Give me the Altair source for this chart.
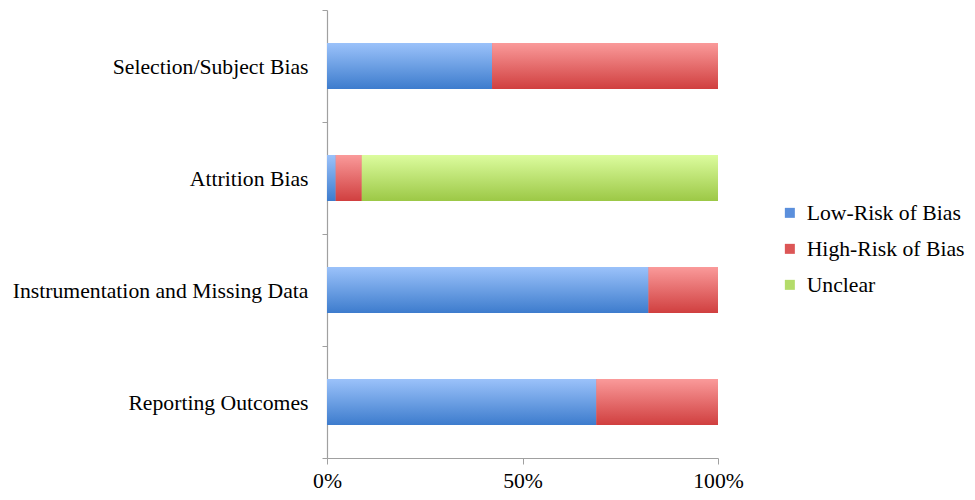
import altair as alt
import pandas as pd

categories = ["Selection/Subject Bias", "Attrition Bias",
              "Instrumentation and Missing Data", "Reporting Outcomes"]
series = ["Low-Risk of Bias", "High-Risk of Bias", "Unclear"]
low_risk = [19, 1, 37, 31]
high_risk = [26, 3, 8, 14]
unclear = [0, 41, 0, 0]

solid = ["#5b8fdc", "#dc5656", "#b4dc6a"]
grads = [("#9bc2fa", "#3d7ccd"), ("#fa9a9a", "#d03f3f"), ("#dcfc9e", "#9cc846")]

rows = []
for i, c in enumerate(categories):
    vals = [low_risk[i], high_risk[i], unclear[i]]
    tot = sum(vals)
    acc = 0
    for s, v in zip(series, vals):
        rows.append({"category": c, "series": s, "start": acc / tot, "end": (acc + v) / tot})
        acc += v
df = pd.DataFrame(rows)
df = df[df["end"] > df["start"]]

FONT = "Liberation Serif"
FS = 21.7
BAR = 46

yenc = alt.Y("category:N", sort=categories, title=None,
             scale=alt.Scale(padding=0),
             axis=alt.Axis(tickBand="extent", domainColor="#a0a0a0", tickColor="#a0a0a0",
                           tickSize=5, labelPadding=14, labelFont=FONT, labelFontSize=FS,
                           labelColor="black", labelLimit=500, grid=False, domainWidth=1.2))
xenc = alt.X("start:Q", title=None,
             scale=alt.Scale(domain=[0, 1], nice=False),
             axis=alt.Axis(values=[0, 0.5, 1], format="%", domainColor="#a0a0a0",
                           tickColor="#a0a0a0", tickSize=6, labelPadding=6,
                           labelFlush=False,
                           labelFont=FONT, labelFontSize=FS, labelColor="black",
                           grid=False, domainWidth=1.2))

base = alt.Chart(df).mark_bar(size=BAR).encode(
    y=yenc, x=xenc, x2="end:Q",
    color=alt.Color("series:N", sort=series, title=None,
                    scale=alt.Scale(domain=series, range=solid),
                    legend=alt.Legend(orient="none", legendX=452, legendY=192,
                                      symbolType="square", symbolSize=100,
                                      symbolStrokeWidth=0,
                                      labelFont=FONT, labelFontSize=FS, labelColor="black",
                                      rowPadding=13, labelOffset=6, labelLimit=300)),
)

layers = [base]
for s, (top, bot) in zip(series, grads):
    g = alt.Gradient(gradient="linear", x1=0, x2=0, y1=0, y2=1,
                     stops=[alt.GradientStop(color=top, offset=0),
                            alt.GradientStop(color=bot, offset=1)])
    layers.append(
        alt.Chart(df[df["series"] == s]).mark_bar(fill=g, size=BAR).encode(
            y=alt.Y("category:N", sort=categories), x="start:Q", x2="end:Q")
    )

chart = alt.layer(*layers).properties(
    width=391, height=448,
    autosize=alt.AutoSizeParams(type="none"),
    padding={"left": 327, "top": 10, "right": 257, "bottom": 42},
).configure_view(stroke=None)

chart.save("out.html", embed_options={"renderer": "svg", "actions": False})
